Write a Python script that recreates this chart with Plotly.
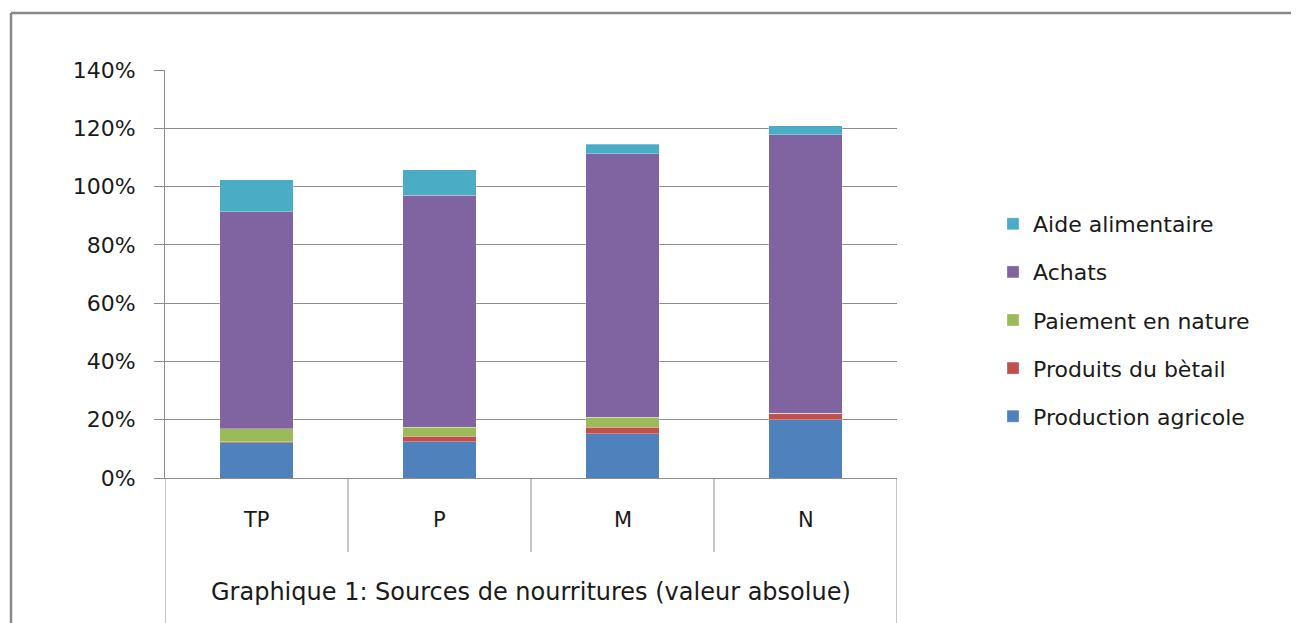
import plotly.graph_objects as go

categories = ["TP", "P", "M", "N"]

production_agricole = [0.121, 0.125, 0.152, 0.200]
produits_betail = [0.004, 0.018, 0.022, 0.022]
paiement_nature = [0.044, 0.031, 0.035, 0.000]
achats = [0.744, 0.796, 0.903, 0.956]
aide_alimentaire = [0.110, 0.088, 0.034, 0.031]

series_names = ["Production agricole", "Produits du bètail", "Paiement en nature",
                "Achats", "Aide alimentaire"]
series_values = [production_agricole, produits_betail, paiement_nature, achats, aide_alimentaire]
colors = ["#4F81BD", "#C0504D", "#9BBB59", "#8064A2", "#4BACC6"]

title_text = "Graphique 1: Sources de nourritures (valeur absolue)"
font_family = "DejaVu Sans, sans-serif"
grid = "#8c8c8c"
text_col = "#1a1a1a"

fig = go.Figure()
for i, (name, vals, col) in enumerate(zip(series_names, series_values, colors)):
    fig.add_trace(go.Bar(
        x=categories, y=vals, name=name, legendgroup=name, legendrank=10 - i,
        marker=dict(color=col, line=dict(color="rgba(255,255,255,0.6)", width=0.5)),
    ))

# page offsets the figure by the body margin, so work in screen pixels and shift
OFF = 8
W, H = 1299, 623
L, R, T, B = 165 - OFF, 897 - OFF, 70 - OFF, 478 - OFF
pw, ph = R - L, B - T


def px(x):
    return (x - OFF - L) / pw


def py(y):
    return (B - (y - OFF)) / ph


shapes = []
# outer chart border (left + top)
shapes.append(dict(type="line", xref="paper", yref="paper", x0=px(11), x1=px(11),
                   y0=py(13), y1=py(650), line=dict(color="#888888", width=2.5)))
shapes.append(dict(type="line", xref="paper", yref="paper", x0=px(11), x1=px(1320),
                   y0=py(13), y1=py(13), line=dict(color="#888888", width=2.5)))
# category table separators below the axis
for i in range(len(categories) + 1):
    bottom = py(650) if i in (0, len(categories)) else py(552)
    shapes.append(dict(type="line", xref="x", yref="paper", x0=i - 0.5, x1=i - 0.5,
                       y0=0, y1=bottom, line=dict(color=grid, width=1)))

annotations = []
for c in categories:
    annotations.append(dict(x=c, xref="x", y=py(520), yref="paper", yanchor="middle",
                            text=c, showarrow=False, font=dict(size=21, color=text_col)))
annotations.append(dict(x=0.5, xref="paper", y=py(592), yref="paper", yanchor="middle",
                        text=title_text, showarrow=False,
                        font=dict(size=24, color=text_col)))

fig.update_layout(
    width=W, height=H,
    margin=dict(l=L, r=W - R, t=T, b=H - B),
    barmode="stack", bargap=0.6,
    plot_bgcolor="white", paper_bgcolor="white",
    font=dict(family=font_family, color=text_col),
    shapes=shapes, annotations=annotations,
    legend=dict(x=px(993), y=py(203), xanchor="left", yanchor="top",
                traceorder="grouped", tracegroupgap=16.5,
                font=dict(size=22, color=text_col), itemwidth=30),
)
fig.update_xaxes(range=[-0.5, 3.5], showticklabels=False, showgrid=False,
                 showline=True, linecolor=grid, linewidth=1, ticks="")
fig.update_yaxes(range=[0, 1.4], dtick=0.2, tickformat=".0%", showgrid=True,
                 gridcolor=grid, gridwidth=1, showline=True, linecolor=grid,
                 ticks="outside", ticklen=10, tickcolor=grid, zeroline=False,
                 ticklabelstandoff=14, tickfont=dict(size=22, color=text_col))

fig.write_html("out.html")
